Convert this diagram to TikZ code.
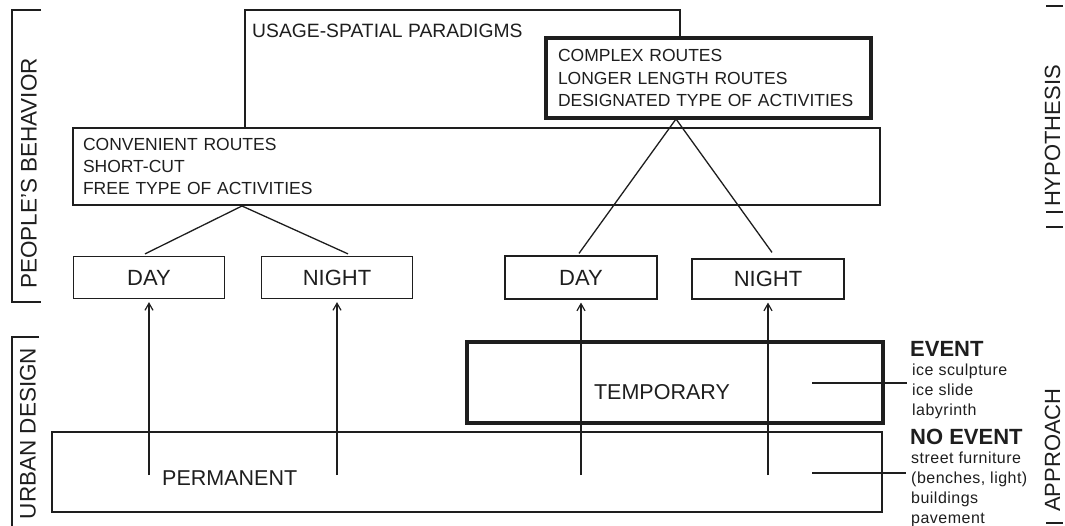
\documentclass[tikz,border=0pt]{standalone}
\usepackage{fontspec}
\setmainfont{Liberation Sans}
\usetikzlibrary{arrows.meta}

\definecolor{ink}{RGB}{30,30,30}

\tikzset{
  box/.style={draw=ink, line width=1.2pt, inner sep=0pt, text=ink},
  thickbox/.style={draw=ink, line width=3.6pt, inner sep=0pt, text=ink},
  link/.style={draw=ink, line width=1.3pt},
  uparrow/.style={draw=ink, line width=1.6pt, shorten >=3pt,
    -{Straight Barb[length=7pt,width=8pt,line width=1.2pt]}},
  bracket/.style={draw=ink, line width=2.3pt},
  word/.style={inner sep=0pt, text=ink},
  routes/.style={font=\fontsize{17.5}{22}\selectfont},
  period/.style={font=\fontsize{22}{24}\selectfont},
  side/.style={word, rotate=90, font=\fontsize{22.5}{26}\selectfont},
  head/.style={word, anchor=base west, font=\bfseries\fontsize{22}{24}\selectfont},
  items/.style={word, anchor=north west, align=left,
    font=\fontsize{16}{20}\selectfont\addfontfeature{LetterSpace=3}},
}

\begin{document}
\begin{tikzpicture}[x=1pt, y=-1pt]
    \useasboundingbox (0,0) rectangle (1065,526);

    %Side brackets
    \draw[bracket] (41,10) -| (12,302) -- (41,302);
    \node[side] (behavior) at (29,173.5) {PEOPLE'S BEHAVIOR};
    \draw[bracket] (39,337) -| (12,526);
    \node[side] (design) at (28,433.5) {URBAN DESIGN};

    \draw[bracket] (1046,6) -- (1063,6);
    \draw[bracket] (1046,212) -- (1063,212);
    \draw[bracket] (1046,227) -- (1063,227);
    \node[side, font=\fontsize{22}{26}\selectfont] (hypothesis) at (1052.5,136) {HYPOTHESIS};
    \node[side, font=\fontsize{22}{26}\selectfont] (approach) at (1052.5,450) {APPROACH};
    \draw[bracket] (1046,523) -- (1063,523);

    %Paradigms
    \node[word, font=\fontsize{19.3}{22}\selectfont, anchor=north west] (usage) at (252,23.5) {USAGE-SPATIAL PARADIGMS};
    \draw[link] (245,128) |- (680,10) -- (680,37);

    \node[box, routes, minimum width=807, minimum height=77, text width=787pt, align=left]
        (convenient) at (476.5,166.5) {CONVENIENT ROUTES\\SHORT-CUT\\FREE TYPE OF ACTIVITIES};
    \node[thickbox, routes, fill=white, minimum width=325, minimum height=80, text width=301pt,
        align=left, font=\fontsize{17.5}{22.5}\selectfont]
        (complex) at (708.5,78) {COMPLEX ROUTES\\LONGER LENGTH ROUTES\\DESIGNATED TYPE OF ACTIVITIES};

    %Day and night
    \node[box, period, minimum width=151, minimum height=42] (day1) at (149,277.5) {DAY};
    \node[box, period, minimum width=151, minimum height=42] (night1) at (337,277.5) {NIGHT};
    \node[box, period, minimum width=152, minimum height=43] (day2) at (581,277.5) {DAY};
    \node[box, period, minimum width=152, minimum height=40] (night2) at (768,279) {NIGHT};

    \coordinate (apexL) at (242,206);
    \coordinate (apexR) at (676,119);
    \draw[link] ([xshift=-4pt,yshift=2pt]day1.north) -- (apexL) -- ([xshift=11pt,yshift=2pt]night1.north);
    \draw[link] ([xshift=-2pt,yshift=2pt]day2.north) -- (apexR) -- ([xshift=4pt,yshift=6pt]night2.north);

    %Urban design
    \node[thickbox, minimum width=416, minimum height=81] (temporary) at (675,382.5) {};
    \node[word, period, font=\fontsize{21.5}{24}\selectfont, anchor=base] (temptext) at (662,399) {TEMPORARY};
    \node[box, minimum width=830, minimum height=80] (permanent) at (467,472) {};
    \node[word, period, font=\fontsize{21.5}{24}\selectfont, anchor=base west] (permtext) at (162,485) {PERMANENT};

    \coordinate (arrowbase) at (0,475);
    \foreach \b in {day1,night1,day2,night2}
        \draw[uparrow] (\b.south |- arrowbase) -- (\b.south);

    %Events
    \node[head] (event) at (910,356) {EVENT};
    \node[items] (eventlist) at (912,363.5) {ice sculpture\\ice slide\\labyrinth};
    \node[head] (noevent) at (910,444) {NO EVENT};
    \node[items] (noeventlist) at (911,451.5) {street furniture\\(benches, light)\\buildings\\pavement};

    \coordinate (templink) at (812,383);
    \coordinate (permlink) at (812,473);
    \draw[link, shorten >=5pt] (templink) -- (templink -| eventlist.west);
    \draw[link, shorten >=5pt] (permlink) -- (permlink -| noeventlist.west);

\end{tikzpicture}
\end{document}
